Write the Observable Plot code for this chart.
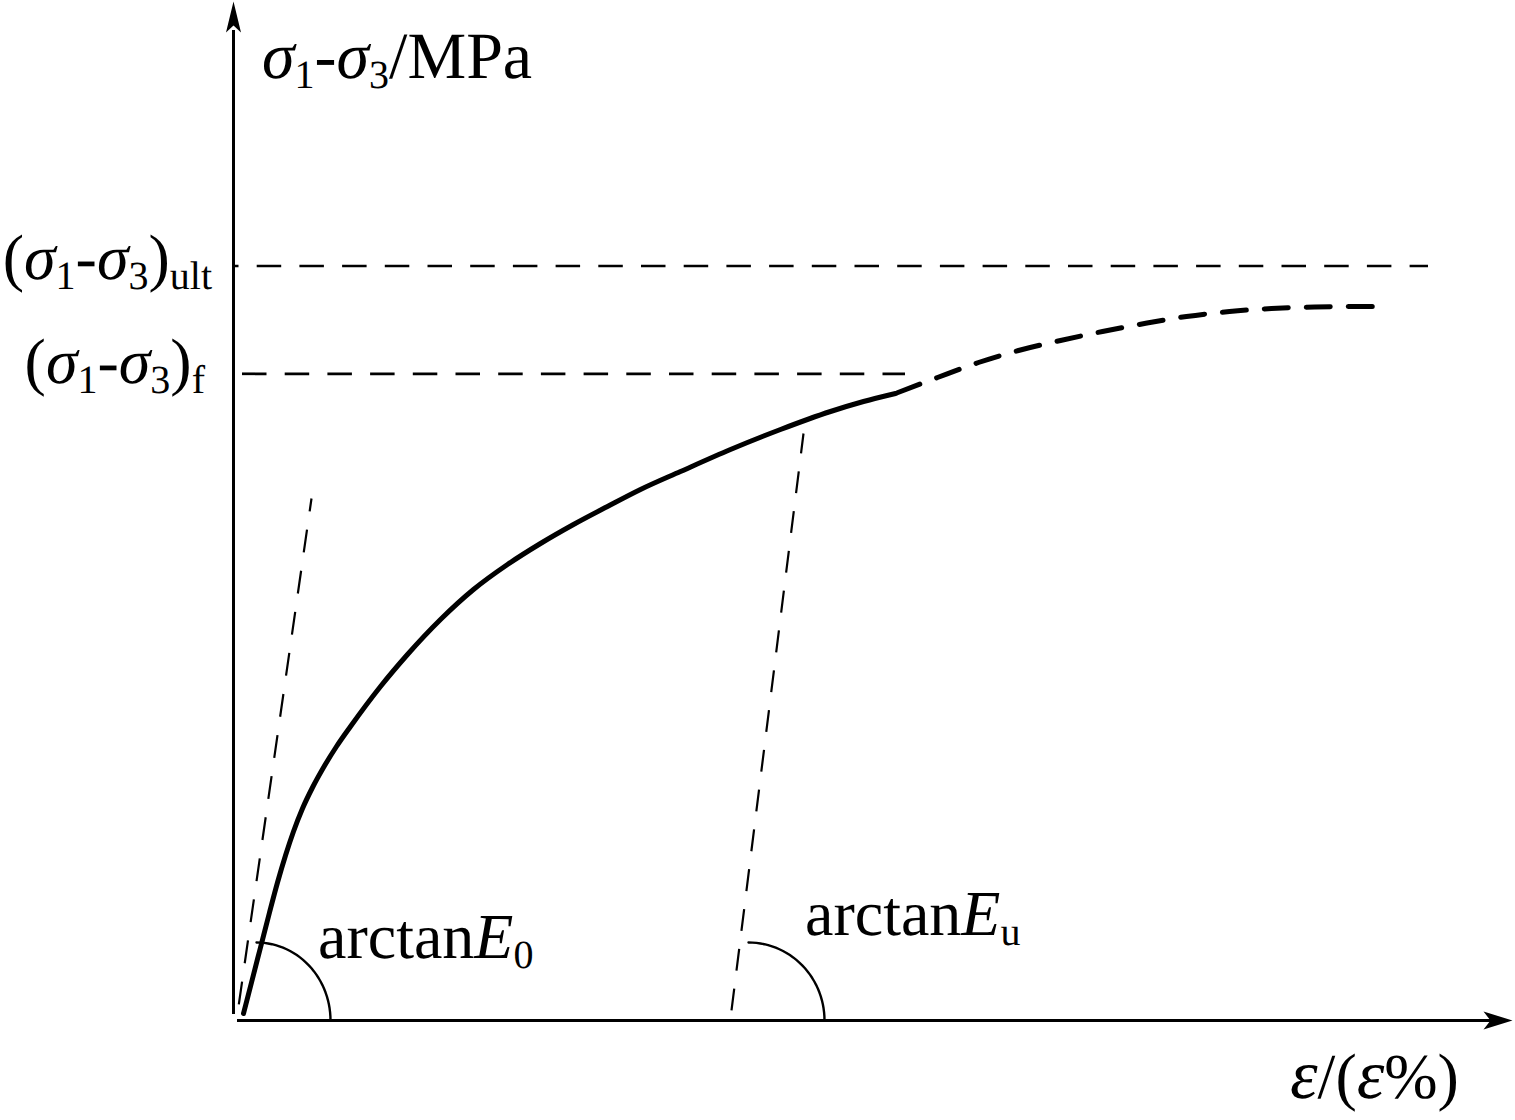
<!DOCTYPE html>
<html><head><meta charset="utf-8">
<script src="https://cdn.jsdelivr.net/npm/d3@7"></script>
<script src="https://cdn.jsdelivr.net/npm/@observablehq/plot@0.6"></script>
<style>html,body{margin:0;padding:0;background:#fff;} svg{display:block} text{text-rendering:geometricPrecision}</style>
</head><body><div id="chart"></div>
<script>
// ---- data (schematic units: strain, stress) ----
const strainSolid = [0.10,0.18,0.27,0.36,0.44,0.52,0.60,0.69,0.79,0.90,1.03,1.17,1.47,1.74,2.07,2.40,2.74,3.07,3.40,3.74,4.07,4.47,4.97,5.47,5.97,6.30,6.62];
const stressSolid = [0.07,0.38,0.73,1.08,1.38,1.65,1.89,2.12,2.33,2.53,2.74,2.94,3.34,3.66,4.01,4.31,4.56,4.77,4.96,5.14,5.31,5.49,5.71,5.91,6.09,6.19,6.27];
const strainPost = [6.62,7.04,7.45,7.85,8.27,8.69,9.11,9.53,9.96,10.38,10.81,11.24,11.48];
const stressPost = [6.27,6.43,6.58,6.70,6.80,6.89,6.97,7.04,7.09,7.12,7.135,7.14,7.14];
const levelNames = ["ult","f"];
const levelStress = [7.545, 6.467];
const levelStrainStart = [-0.01, 0.09];
const levelStrainEnd = [11.95, 6.72];
const tangentNames = ["E0","Eu"];
const tangentStrainTop = [0.78, 5.70];
const tangentStressTop = [5.22, 5.87];
const tangentStrainBottom = [0.04, 4.98];
const tangentStressBottom = [0.07, 0.10];
const arcStrainCenter = [0.23, 5.15];
const arcStrainRadius = [0.74, 0.76];
const arcStressRadius = [0.78, 0.78];

// ---- derived tables ----
const solid = strainSolid.map((x,i)=>({x, y: stressSolid[i]}));
const post = strainPost.map((x,i)=>({x, y: stressPost[i]}));
const levels = levelNames.map((name,i)=>({name, y: levelStress[i], x1: levelStrainStart[i], x2: levelStrainEnd[i]}));
const tangents = tangentNames.map((name,i)=>({name, x1: tangentStrainTop[i], y1: tangentStressTop[i], x2: tangentStrainBottom[i], y2: tangentStressBottom[i]}));
const arcs = [];
arcStrainCenter.forEach((cx,i)=>{
  d3.range(0, 91, 3).forEach(a=>{
    const t = (90 - a) * Math.PI/180;
    arcs.push({name: tangentNames[i], x: cx + arcStrainRadius[i]*Math.cos(t), y: arcStressRadius[i]*Math.sin(t)});
  });
});

const arrowUp = {draw(ctx){ ctx.moveTo(0,0); ctx.lineTo(7.5,31); ctx.lineTo(0,24); ctx.lineTo(-7.5,31); ctx.closePath(); }};
const arrowRight = {draw(ctx){ ctx.moveTo(0,0); ctx.lineTo(-29,9); ctx.lineTo(-22,0); ctx.lineTo(-29,-9); ctx.closePath(); }};

const chart = Plot.plot({
  width: 1515, height: 1120,
  marginLeft: 233, marginRight: 0, marginTop: 0, marginBottom: 100,
  x: {domain: [0, 12.82], axis: null},
  y: {domain: [0, 10.2], axis: null},
  style: {background: "white", overflow: "visible"},
  marks: [
    // axes
    Plot.ruleX([0], {y1: 0.06, y2: 9.9, stroke: "black", strokeWidth: 3}),
    Plot.ruleY([0], {x1: 0.04, x2: 12.6, stroke: "black", strokeWidth: 3}),
    Plot.dot([{x: 0, y: 10.19}], {x: "x", y: "y", symbol: arrowUp, r: 10, fill: "black", stroke: null}),
    Plot.dot([{x: 12.79, y: 0}], {x: "x", y: "y", symbol: arrowRight, r: 10, fill: "black", stroke: null}),
    // peak / ultimate levels
    Plot.ruleY(levels.filter(d=>d.name==="ult"), {y: "y", x1: "x1", x2: "x2", stroke: "black", strokeWidth: 2.7, strokeDasharray: "24.5,18.2", strokeDashoffset: 18}),
    Plot.ruleY(levels.filter(d=>d.name==="f"), {y: "y", x1: "x1", x2: "x2", stroke: "black", strokeWidth: 2.7, strokeDasharray: "24.5,18.2", strokeDashoffset: 0}),
    // tangent modulus lines
    Plot.link(tangents.filter(d=>d.name==="E0"), {x1: "x1", y1: "y1", x2: "x2", y2: "y2", stroke: "black", strokeWidth: 2.2, strokeDasharray: "23,18.5", strokeDashoffset: 10}),
    Plot.link(tangents.filter(d=>d.name==="Eu"), {x1: "x1", y1: "y1", x2: "x2", y2: "y2", stroke: "black", strokeWidth: 2.2, strokeDasharray: "22,18.1", strokeDashoffset: 2}),
    // angle arcs
    Plot.line(arcs, {x: "x", y: "y", z: "name", stroke: "black", strokeWidth: 2.4, curve: "linear"}),
    // stress-strain curve
    Plot.line(solid, {x: "x", y: "y", stroke: "black", strokeWidth: 5, curve: "monotone-x"}),
    Plot.line(post, {x: "x", y: "y", stroke: "black", strokeWidth: 5, curve: "monotone-x", strokeDasharray: "24,18", strokeDashoffset: -2})
  ]
});
document.getElementById("chart").appendChild(chart);

// ---- text labels with sub-scripts ----
const X = chart.scale("x"), Y = chart.scale("y");
const svg = d3.select(chart);
const SUB = 40, SUBDY = 10;
function addText(x, y, parts, anchor, fs){
  const t = svg.append("text").attr("x", x).attr("y", y)
    .attr("font-family", "'Liberation Serif','Times New Roman',serif")
    .attr("font-size", fs || 64).attr("fill", "black").attr("text-anchor", anchor || "start");
  let shift = 0;
  for (const [s, k] of parts){
    const sp = t.append("tspan").text(s);
    const want = k === "sub" ? SUBDY : 0;
    if (want !== shift){ sp.attr("dy", want - shift); shift = want; }
    if (k === "sub") sp.attr("font-size", SUB);
    if (k === "i") sp.attr("font-style", "italic");
    if (k === "big") sp.attr("font-style", "italic").attr("font-size", 70);
  }
}
const yAxisX = X.apply(0);
addText(yAxisX + 29, 78, [["σ","i"],["1","sub"],["-","n"],["σ","i"],["3","sub"],["/MPa","n"]], "start", 66);
addText(yAxisX - 21, Y.apply(levelStress[0]) + 13, [["(","n"],["σ","i"],["1","sub"],["-","n"],["σ","i"],["3","sub"],[")","n"],["ult","sub"]], "end");
addText(yAxisX - 28, Y.apply(levelStress[1]) + 10, [["(","n"],["σ","i"],["1","sub"],["-","n"],["σ","i"],["3","sub"],[")","n"],["f","sub"]], "end");
addText(X.apply(arcStrainCenter[0]) + 62, Y.apply(0) - 62, [["arctan","n"],["E","i"],["0","sub"]]);
addText(X.apply(arcStrainCenter[1]) + 57, Y.apply(0) - 85, [["arctan","n"],["E","i"],["u","sub"]]);
addText(1290, 1098, [["ε","big"],["/(","n"],["ε","big"],["%)","n"]]);
</script>
</body></html>
